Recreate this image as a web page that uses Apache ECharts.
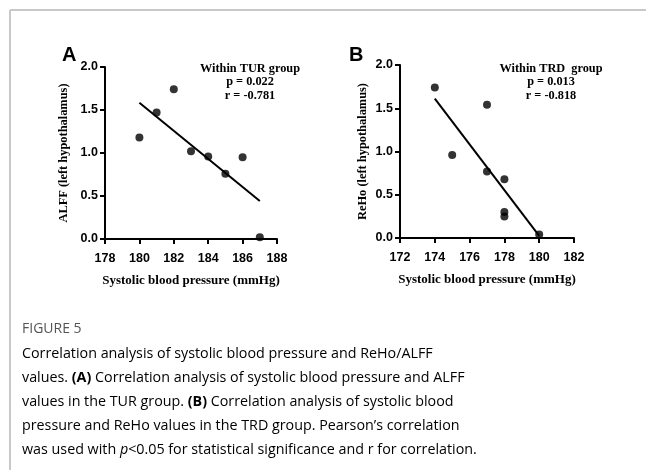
<!DOCTYPE html>
<html lang="en">
<head>
    <meta charset="UTF-8">
    <title>Figure 5</title>
    <style>
        body{ margin:0; background:#fff; }
        #main{ width:646px; height:470px; }
    </style>
</head>
<body>
    <div id="main"></div>
    <script src="https://cdn.jsdelivr.net/npm/echarts@6/dist/echarts.min.js"></script>
    <script type="text/javascript">
        // 数据 A: TUR group
        var sbpA = [180, 181, 182, 183, 184, 185, 186, 187];
        var alffA = [1.18, 1.47, 1.74, 1.02, 0.96, 0.76, 0.95, 0.02];
        // 数据 B: TRD group
        var sbpB = [174, 175, 177, 177, 178, 178, 178, 180];
        var rehoB = [1.74, 0.96, 1.54, 0.77, 0.68, 0.30, 0.25, 0.04];

        function pairs(xs, ys){
            var out = [];
            for(var i=0;i<xs.length;i++){ out.push([xs[i], ys[i]]); }
            return out;
        }
        // 最小二乘拟合线
        function fitLine(xs, ys){
            var n = xs.length, mx = 0, my = 0, sxy = 0, sxx = 0;
            for(var i=0;i<n;i++){ mx += xs[i]; my += ys[i]; }
            mx /= n; my /= n;
            for(var j=0;j<n;j++){ sxy += (xs[j]-mx)*(ys[j]-my); sxx += (xs[j]-mx)*(xs[j]-mx); }
            var k = sxy/sxx, b = my - k*mx;
            var x0 = Math.min.apply(null, xs), x1 = Math.max.apply(null, xs);
            return [[x0, k*x0+b], [x1, k*x1+b]];
        }

        var myChart = echarts.init(document.getElementById('main'));

        var tickFont = { color:'#000', fontSize:12.5, fontWeight:'bold', fontFamily:'Liberation Sans, Arial, sans-serif' };
        var serif = 'Liberation Serif, Times New Roman, serif';
        var axLine = { show:true, lineStyle:{ color:'#000', width:2 } };
        var axTick = { show:true, length:5, inside:false, lineStyle:{ color:'#000', width:2 } };

        function xAxis(idx, min, max){
            return {
                type:'value', gridIndex:idx, min:min, max:max, interval:2,
                name:'Systolic blood pressure (mmHg)', nameLocation:'middle', nameGap:35,
                nameTextStyle:{ color:'#000', fontSize:13, fontWeight:'bold', fontFamily:serif },
                axisLine:axLine, axisTick:axTick, splitLine:{show:false},
                axisLabel:Object.assign({ margin:13 }, tickFont)
            };
        }
        function yAxis(idx, name, gap){
            return {
                type:'value', gridIndex:idx, min:0, max:2, interval:0.5,
                name:name, nameLocation:'middle', nameGap:gap,
                nameTextStyle:{ color:'#000', fontSize:12.4, fontWeight:'bold', fontFamily:serif },
                axisLine:axLine, axisTick:axTick, splitLine:{show:false},
                axisLabel:Object.assign({ margin:7, formatter:function(v){ return v.toFixed(1); } }, tickFont)
            };
        }

        var capFont = 'Open Sans, Noto Sans, sans-serif';
        var capRich = {
            n:{ fontSize:14.3, color:'#555', fontFamily:capFont },
            b:{ fontSize:14.3, color:'#555', fontFamily:capFont, fontWeight:'bold' },
            i:{ fontSize:14.3, color:'#555', fontFamily:capFont, fontStyle:'italic' }
        };
        var capLines = [
            '{n|Correlation analysis of systolic blood pressure and ReHo/ALFF}',
            '{n|values. }{b|(A)}{n| Correlation analysis of systolic blood pressure and ALFF}',
            '{n|values in the TUR group. }{b|(B)}{n| Correlation analysis of systolic blood}',
            '{n|pressure and ReHo values in the TRD group. Pearson\u2019s correlation}',
            '{n|was used with }{i|p}{n|<0.05 for statistical significance and r for correlation.}'
        ];
        var graphics = [
            { type:'line', shape:{x1:10, y1:10, x2:646, y2:10}, style:{stroke:'#c8c8c8', lineWidth:2} },
            { type:'line', shape:{x1:10, y1:10, x2:10, y2:470}, style:{stroke:'#c8c8c8', lineWidth:2} },
            { type:'text', left:62, top:45, style:{ text:'A', fontSize:20, fontWeight:'bold', fill:'#000', fontFamily:'Liberation Sans, Arial, sans-serif' } },
            { type:'text', left:349, top:45, style:{ text:'B', fontSize:20, fontWeight:'bold', fill:'#000', fontFamily:'Liberation Sans, Arial, sans-serif' } },
            { type:'text', x:250, y:62, style:{ text:'Within TUR group\np = 0.022\nr = -0.781', align:'center', lineHeight:13.5, fontSize:12.3, fontWeight:'bold', fill:'#000', fontFamily:serif } },
            { type:'text', x:551, y:62, style:{ text:'Within TRD  group\np = 0.013\nr = -0.818', align:'center', lineHeight:13.5, fontSize:12.3, fontWeight:'bold', fill:'#000', fontFamily:serif } },
            { type:'text', x:22, y:322, style:{ text:'FIGURE 5', fontSize:14, fill:'#555', fontFamily:capFont } }
        ];
        for(var c=0;c<capLines.length;c++){
            graphics.push({ type:'text', x:22, y:347 + c*24, style:{ text:capLines[c], rich:capRich } });
        }

        var option = {
            animation:false,
            backgroundColor:'#fff',
            grid:[
                { left:105, top:67, width:172, height:172 },
                { left:400, top:65, width:174, height:173 }
            ],
            xAxis:[ xAxis(0, 178, 188), xAxis(1, 172, 182) ],
            yAxis:[ yAxis(0, 'ALFF (left hypothalamus)', 35), yAxis(1, 'ReHo (left hypothalamus)', 31) ],
            series:[
                { type:'scatter', xAxisIndex:0, yAxisIndex:0, symbolSize:8, itemStyle:{color:'#000'}, data:pairs(sbpA, alffA) },
                { type:'line', xAxisIndex:0, yAxisIndex:0, symbol:'none', lineStyle:{color:'#000', width:2}, data:fitLine(sbpA, alffA) },
                { type:'scatter', xAxisIndex:1, yAxisIndex:1, symbolSize:8, itemStyle:{color:'#000'}, data:pairs(sbpB, rehoB) },
                { type:'line', xAxisIndex:1, yAxisIndex:1, symbol:'none', lineStyle:{color:'#000', width:2}, data:fitLine(sbpB, rehoB) }
            ],
            graphic:graphics
        };

        myChart.setOption(option);
    </script>
</body>
</html>
